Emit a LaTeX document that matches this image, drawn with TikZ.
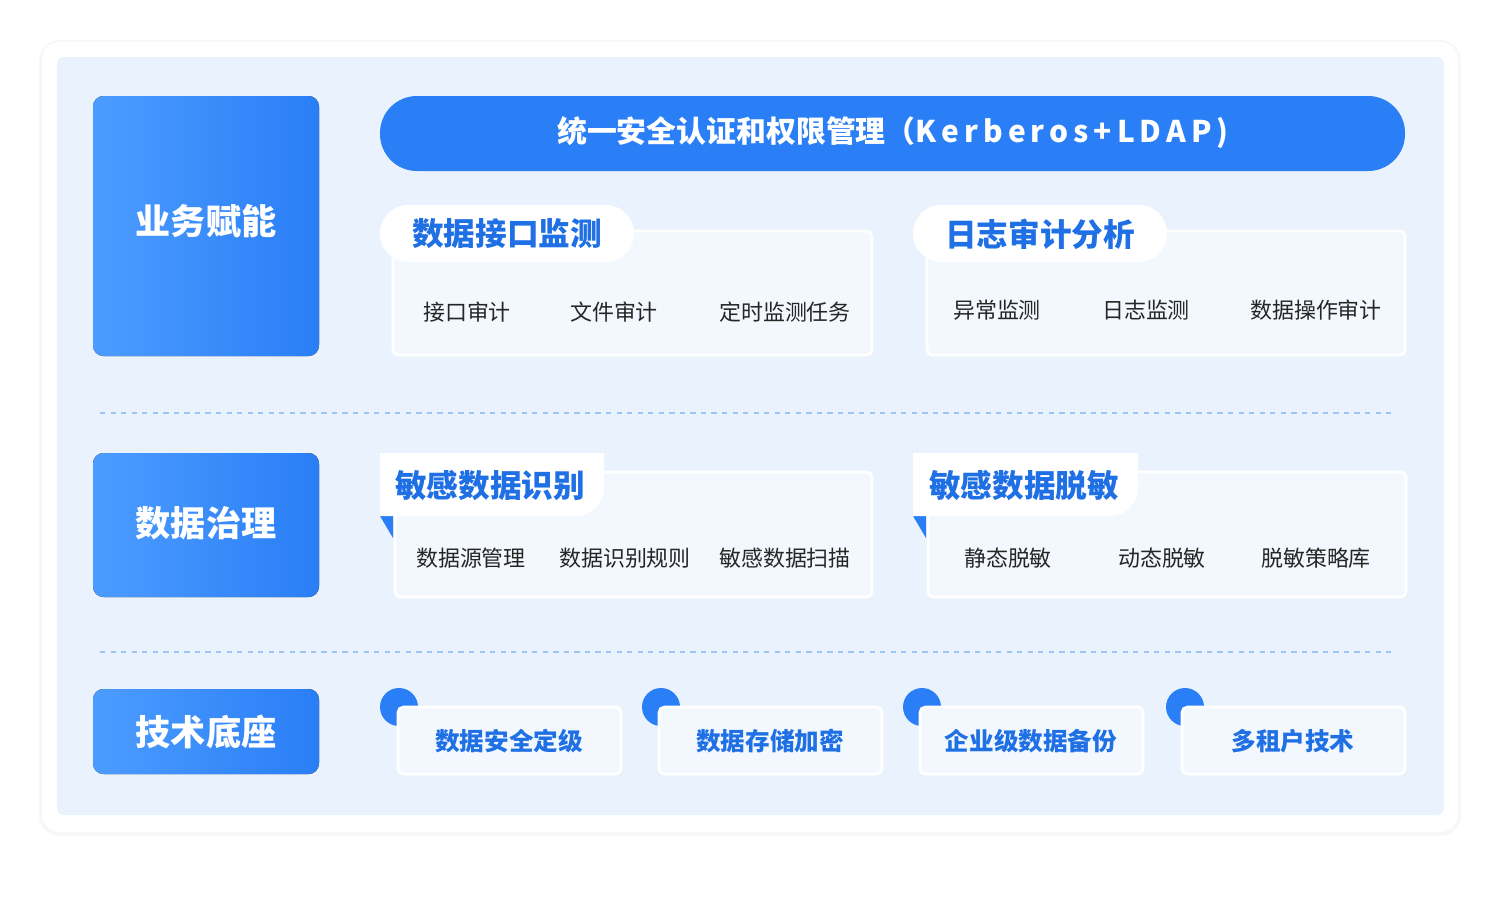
\documentclass[tikz,border=0pt]{standalone}
\usepackage{fontspec}
\setmainfont{Noto Sans CJK SC}
\usetikzlibrary{positioning}
\definecolor{mainblue}{HTML}{2A7EF6}
\definecolor{lightblue}{HTML}{4C9CFF}
\definecolor{panelbg}{HTML}{EAF3FD}
\definecolor{cardbg}{HTML}{F2F8FE}
\definecolor{tabtext}{HTML}{1F6FE5}
\definecolor{dashcol}{HTML}{9CC7F5}
\tikzset{
  side/.style={rounded corners=6pt,left color=lightblue,right color=mainblue,draw=none},
  sidetext/.style={text=white,font=\bfseries\fontsize{20}{24}\selectfont},
  card/.style={fill=cardbg,draw=white,line width=1.5pt,rounded corners=3pt},
  tab/.style={fill=white,draw=none},
  tabtext/.style={text=tabtext,font=\bfseries\fontsize{18}{22}\selectfont},
  item/.style={text=black!85,font=\fontsize{12.5}{15}\selectfont},
  base/.style={text=tabtext,font=\bfseries\fontsize{14}{17}\selectfont},
  sep/.style={dashcol,dashed,line width=0.6pt},
}
\begin{document}
\begin{tikzpicture}[x=0.02cm,y=-0.02cm]
  \useasboundingbox (0,0) rectangle (1500,900);
  % background
  \fill[black!3,rounded corners=12pt] (39,40) rectangle (1461,836);
  \fill[white,rounded corners=10pt] (42,42) rectangle (1458,832);
  \fill[panelbg,rounded corners=4pt] (57,57) rectangle (1444,815);
  % left labels
  \fill[side] (93,96) rectangle (319,356);
  \node[sidetext] (biz) at (206,221) {业务赋能};
  \fill[side] (93,453) rectangle (319,597);
  \node[sidetext] (gov) at (206,523) {数据治理};
  \fill[side] (93,689) rectangle (319,774);
  \node[sidetext] (tech) at (206,732) {技术底座};
  % top banner
  \fill[mainblue,rounded corners=21pt] (380,96) rectangle (1405,171);
  \node[text=white,font=\bfseries\fontsize{17}{20}\selectfont] (auth) at (893,133) {统一安全认证和权限管理（K\,e\,r\,b\,e\,r\,o\,s\,+\,L\,D\,A\,P\,)};
  % row 1
  \fill[card] (393,231) rectangle (872,355);
  \fill[tab,rounded corners=16pt] (380,205) rectangle (634,262);
  \node[tabtext] (t1) at (507,234) {数据接口监测};
  \node[item] (a1) at (467,312) {接口审计};
  \node[item] (a2) at (614,312) {文件审计};
  \node[item] (a3) at (785,312) {定时监测任务};
  \fill[card] (927,231) rectangle (1405,355);
  \fill[tab,rounded corners=16pt] (913,205) rectangle (1167,262);
  \node[tabtext] (t2) at (1040,234) {日志审计分析};
  \node[item] (b1) at (997,310) {异常监测};
  \node[item] (b2) at (1146,310) {日志监测};
  \node[item] (b3) at (1316,310) {数据操作审计};
  \draw[sep] (100,413) -- (1393,413);
  % row 2
  \fill[card] (395,472) rectangle (872,597);
  \fill[mainblue] (380,516) -- (393,516) -- (393,538) -- cycle;
  \fill[tab] (380,453) -- (604,453) [rounded corners=16pt] -- (604,516) [sharp corners] -- (380,516) -- cycle;
  \node[tabtext] (t3) at (490,485) {敏感数据识别};
  \node[item] (c1) at (471,558) {数据源管理};
  \node[item] (c2) at (625,558) {数据识别规则};
  \node[item] (c3) at (785,558) {敏感数据扫描};
  \fill[card] (928,472) rectangle (1406,597);
  \fill[mainblue] (913,516) -- (926,516) -- (926,538) -- cycle;
  \fill[tab] (913,453) -- (1138,453) [rounded corners=16pt] -- (1138,516) [sharp corners] -- (913,516) -- cycle;
  \node[tabtext] (t4) at (1024,485) {敏感数据脱敏};
  \node[item] (d1) at (1008,558) {静态脱敏};
  \node[item] (d2) at (1162,558) {动态脱敏};
  \node[item] (d3) at (1316,558) {脱敏策略库};
  \draw[sep] (100,652) -- (1393,652);
  % row 3
  \foreach \x/\cx/\tx/\lbl [count=\i] in {398/399/509/数据安全定级,659/661/770/数据存储加密,920/922/1031/企业级数据备份,1182/1185/1293/多租户技术}{
    \fill[mainblue] (\cx,707) circle (19);
    \fill[card] (\x,707) rectangle ({\x+223},774);
    \node[base] (e\i) at (\tx,741) {\lbl};
  }
\end{tikzpicture}
\end{document}
